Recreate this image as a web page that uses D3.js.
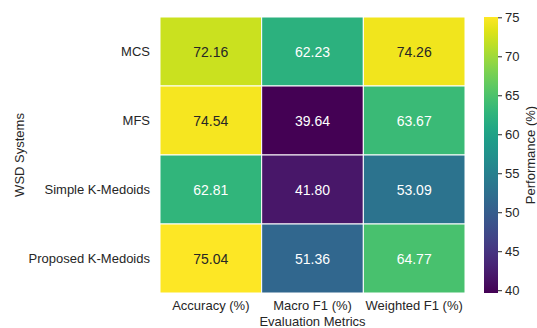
<!DOCTYPE html>
<html>
<head>
<meta charset="utf-8">
<script src="https://cdn.jsdelivr.net/npm/d3@7"></script>
<style>
  html, body { margin: 0; padding: 0; background: #fff; }
  svg { display: block; font-family: "Liberation Sans", Arial, sans-serif; }
</style>
</head>
<body>
<svg id="chart" width="537" height="328"></svg>
<script>
// WSD systems (rows) and evaluation metrics (columns)
const systems = ["MCS", "MFS", "Simple K-Medoids", "Proposed K-Medoids"];
const metrics = ["Accuracy (%)", "Macro F1 (%)", "Weighted F1 (%)"];
const accuracy = [72.16, 74.54, 62.81, 75.04];
const macroF1 = [62.23, 39.64, 41.80, 51.36];
const weightedF1 = [74.26, 63.67, 53.09, 64.77];
const colorbarTicks = [40, 45, 50, 55, 60, 65, 70, 75];

const columns = [accuracy, macroF1, weightedF1];
const cells = [];
systems.forEach((s, i) => {
  metrics.forEach((m, j) => {
    cells.push({ system: s, metric: m, value: columns[j][i] });
  });
});

const svg = d3.select("#chart");
const plot = { left: 160, top: 17, right: 465, bottom: 293 };
const textColor = "#262626";
const fontFamily = "Liberation Sans, Arial, sans-serif";

const x = d3.scaleBand().domain(metrics).range([plot.left, plot.right]);
const y = d3.scaleBand().domain(systems).range([plot.top, plot.bottom]);

const allValues = cells.map(d => d.value);
const vmin = d3.min(allValues), vmax = d3.max(allValues);
const color = d3.scaleSequential(d3.interpolateViridis).domain([vmin, vmax]);

// heatmap cells
svg.append("g")
  .selectAll("rect")
  .data(cells)
  .join("rect")
  .attr("x", d => x(d.metric))
  .attr("y", d => y(d.system))
  .attr("width", x.bandwidth())
  .attr("height", y.bandwidth())
  .attr("fill", d => color(d.value))
  .attr("stroke", "#ffffff")
  .attr("stroke-width", 1);

// annotations: dark text on light cells, white on dark
svg.append("g")
  .selectAll("text")
  .data(cells)
  .join("text")
  .attr("x", d => x(d.metric) + x.bandwidth() / 2)
  .attr("y", d => y(d.system) + y.bandwidth() / 2)
  .attr("text-anchor", "middle")
  .attr("dominant-baseline", "central")
  .attr("font-size", 14)
  .attr("fill", d => d3.lab(color(d.value)).l > 70 ? textColor : "#ffffff")
  .text(d => d.value.toFixed(2));

// y axis (row labels)
const yAxis = d3.axisLeft(y).tickSize(0).tickPadding(10);
svg.append("g")
  .attr("transform", `translate(${plot.left},0)`)
  .call(yAxis)
  .call(g => g.select(".domain").remove())
  .call(g => g.selectAll("text").attr("font-size", 13).attr("fill", textColor)
    .attr("font-family", fontFamily));

// x axis (column labels)
const xAxis = d3.axisBottom(x).tickSize(0).tickPadding(8);
svg.append("g")
  .attr("transform", `translate(0,${plot.bottom})`)
  .call(xAxis)
  .call(g => g.select(".domain").remove())
  .call(g => g.selectAll("text").attr("font-size", 13).attr("fill", textColor)
    .attr("font-family", fontFamily));

// axis titles
svg.append("text")
  .attr("x", (plot.left + plot.right) / 2)
  .attr("y", 326)
  .attr("text-anchor", "middle")
  .attr("font-size", 13)
  .attr("fill", textColor)
  .text("Evaluation Metrics");

svg.append("text")
  .attr("transform", `translate(24,${(plot.top + plot.bottom) / 2}) rotate(-90)`)
  .attr("text-anchor", "middle")
  .attr("font-size", 13)
  .attr("fill", textColor)
  .text("WSD Systems");

// colorbar
const cb = { left: 484, width: 14, top: plot.top, bottom: plot.bottom };
const cbScale = d3.scaleLinear().domain([vmin, vmax]).range([cb.bottom, cb.top]);

const defs = svg.append("defs");
const grad = defs.append("linearGradient")
  .attr("id", "viridis-grad")
  .attr("x1", "0%").attr("y1", "100%")
  .attr("x2", "0%").attr("y2", "0%");
d3.range(0, 1.0001, 0.05).forEach(t => {
  grad.append("stop")
    .attr("offset", `${t * 100}%`)
    .attr("stop-color", d3.interpolateViridis(t));
});

svg.append("rect")
  .attr("x", cb.left)
  .attr("y", cb.top)
  .attr("width", cb.width)
  .attr("height", cb.bottom - cb.top)
  .attr("fill", "url(#viridis-grad)");

const cbAxis = d3.axisRight(cbScale).tickValues(colorbarTicks).tickSize(4).tickPadding(3);
svg.append("g")
  .attr("transform", `translate(${cb.left + cb.width},0)`)
  .call(cbAxis)
  .call(g => g.select(".domain").remove())
  .call(g => g.selectAll("line").attr("stroke", textColor))
  .call(g => g.selectAll("text").attr("font-size", 13).attr("fill", textColor)
    .attr("font-family", fontFamily));

svg.append("text")
  .attr("transform", `translate(530,${(cb.top + cb.bottom) / 2}) rotate(-90)`)
  .attr("text-anchor", "middle")
  .attr("dominant-baseline", "central")
  .attr("font-size", 13)
  .attr("fill", textColor)
  .text("Performance (%)");
</script>
</body>
</html>
